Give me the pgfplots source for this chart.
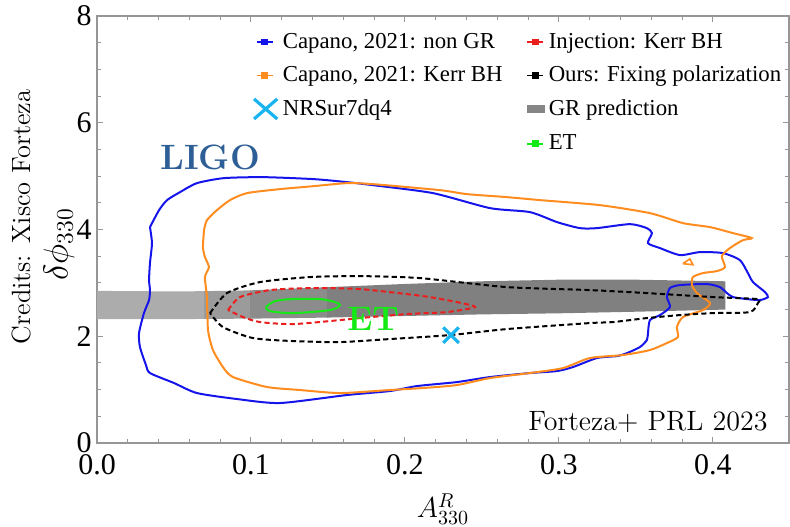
\documentclass[border=0pt]{standalone}
\usepackage{pgfplots}
\pgfplotsset{compat=1.18}
\usepackage{fontspec}
\newfontfamily\tnr{Liberation Serif}
\definecolor{cblue}{RGB}{20,20,235}
\definecolor{corange}{RGB}{255,140,30}
\definecolor{cred}{RGB}{235,30,30}
\definecolor{cgreen}{RGB}{20,235,20}
\definecolor{ccyan}{RGB}{25,180,240}
\definecolor{ligo}{RGB}{45,95,150}
\definecolor{framegray}{RGB}{150,150,150}
\definecolor{bandA}{RGB}{172,172,172}
\definecolor{bandB}{RGB}{155,155,155}
\definecolor{bandC}{RGB}{140,140,140}
\definecolor{bandD}{RGB}{128,128,128}
\begin{document}
\begin{tikzpicture}
\path[use as bounding box] (-48.5pt,-41.5pt) rectangle (346.5pt,221.5pt);
\begin{axis}[
 at={(0,0)}, anchor=south west,
 scale only axis, width=346pt, height=213.5pt,
 xmin=0, xmax=0.4494, ymin=0, ymax=8,
 xtick={0,0.1,0.2,0.3,0.4}, xticklabels={0.0,0.1,0.2,0.3,0.4},
 ytick={0,2,4,6,8}, yticklabels={0,2,4,6,8},
 minor x tick num=4, minor y tick num=3,
 tick align=inside, major tick length=3pt, minor tick length=1.8pt,
 axis line style={framegray, line width=0.6pt},
 every tick/.style={framegray, line width=0.5pt},
 ticklabel style={font=\tnr\fontsize{15}{17}\selectfont, text=black},
 xticklabel style={inner sep=0pt, anchor=north, yshift=-5.5pt},
 yticklabel style={inner sep=0pt, anchor=east, xshift=-2.5pt},
 xlabel={$A^{R}_{330}$},
 xlabel style={at={(rel axis cs:0.5,0)}, anchor=center, yshift=-33pt, font=\fontsize{14}{16}\selectfont},
 ylabel={$\delta\phi_{330}$},
 ylabel style={at={(rel axis cs:-0.055,0.465)}, anchor=center, font=\fontsize{17}{19}\selectfont},
 legend columns=2,
 legend cell align=left,
 legend image code/.code={\draw[mark repeat=2,mark phase=2,#1] plot coordinates {(0pt,0pt) (4pt,0pt) (8pt,0pt)};},
 legend style={at={(axis cs:0.0968,7.84)}, anchor=north west, draw=none, fill=none,
   font=\tnr\fontsize{11.4}{13}\selectfont, row sep=3.4pt,
   /tikz/every even column/.append style={column sep=10pt}},
]
% legend entries (row-wise)
\addlegendimage{cblue, line width=0.8pt, mark=square*, mark size=1.3pt}
\addlegendentry{Capano, 2021: non GR}
\addlegendimage{cred, line width=0.8pt, mark=square*, mark size=1.3pt}
\addlegendentry{Injection: Kerr BH}
\addlegendimage{corange, line width=0.8pt, mark=square*, mark size=1.3pt}
\addlegendentry{Capano, 2021: Kerr BH}
\addlegendimage{black, line width=0.8pt, mark=square*, mark size=1.3pt}
\addlegendentry{Ours: Fixing polarization}
\addlegendimage{legend image code/.code={\draw[ccyan, line width=1.6pt] (-1.3pt,-5pt) -- (10.3pt,5pt) (-1.3pt,5pt) -- (10.3pt,-5pt);}}
\addlegendentry{NRSur7dq4}
\addlegendimage{legend image code/.code={\fill[gray!95] (0pt,-1.8pt) rectangle (8.5pt,1.8pt);}}
\addlegendentry{GR prediction}
\addlegendimage{legend image code/.code={\path[draw=none, fill=none] (0pt,0pt) rectangle (8pt,0.1pt);}}
\addlegendentry{\strut}
\addlegendimage{cgreen, line width=0.8pt, mark=square*, mark size=1.3pt}
\addlegendentry{ET}

% GR prediction band, pieces of increasing density
\addplot[fill=bandA, draw=none, forget plot] coordinates {
(0,2.85) (0.05,2.84) (0.07,2.845) (0.07,2.325) (0.05,2.32) (0,2.32) (0,2.85)};
\addplot[fill=bandB, draw=none, forget plot] coordinates {
(0.0695,2.845) (0.1,2.86) (0.1,2.33) (0.0695,2.325) (0.0695,2.845)};
\addplot[fill=bandC, draw=none, forget plot] coordinates {
(0.0995,2.86) (0.15,2.92) (0.15,2.35) (0.0995,2.33) (0.0995,2.86)};
\addplot[fill=bandD, draw=none, forget plot] coordinates {
(0.1495,2.92) (0.2,2.98) (0.25,3.03) (0.3,3.06) (0.35,3.06) (0.408,3.03)
(0.408,2.50) (0.35,2.46) (0.3,2.43) (0.25,2.41) (0.2,2.38) (0.1495,2.35) (0.1495,2.92)};

% Capano non GR (blue)
\addplot[cblue, line width=1pt, smooth, tension=0.4, forget plot] coordinates {
(0.0344,4.045) (0.0403,4.363) (0.0455,4.551) (0.0539,4.700) (0.0649,4.869) (0.0825,4.963)
(0.1084,4.981) (0.1409,4.944) (0.1623,4.888) (0.1792,4.831) (0.2182,4.682) (0.2552,4.401)
(0.2812,4.326) (0.2987,4.139) (0.3136,4.026) (0.3247,4.026) (0.3461,4.101) (0.3571,4.026)
(0.3604,3.933) (0.3578,3.745) (0.3656,3.652) (0.3786,3.521) (0.3916,3.577) (0.4065,3.558)
(0.4175,3.427) (0.4227,3.184) (0.4260,3.015) (0.4338,2.828) (0.4357,2.734) (0.4305,2.678)
(0.4221,2.697) (0.4130,2.734) (0.4091,2.809) (0.4045,2.921) (0.3961,2.978) (0.3786,2.959)
(0.3721,2.903) (0.3701,2.734) (0.3721,2.547) (0.3656,2.397) (0.3591,2.303) (0.3578,2.060)
(0.3571,1.929) (0.3526,1.798) (0.3442,1.685) (0.3377,1.629) (0.3247,1.592) (0.3091,1.423)
(0.2987,1.348) (0.2812,1.311) (0.2552,1.236) (0.2338,1.142) (0.2078,1.067) (0.1903,0.974)
(0.1623,0.899) (0.1188,0.749) (0.0909,0.824) (0.0649,0.936) (0.0500,1.124) (0.0344,1.311)
(0.0318,1.461) (0.0279,1.798) (0.0273,2.060) (0.0305,2.434) (0.0338,2.678) (0.0344,2.865)
(0.0338,3.052) (0.0344,3.371) (0.0357,3.745) (0.0344,4.045)};

% Capano Kerr BH (orange)
\addplot[corange, line width=1pt, smooth, tension=0.4, forget plot] coordinates {
(0.0695,3.989) (0.0714,4.176) (0.0779,4.363) (0.0864,4.551) (0.0974,4.682) (0.1188,4.757)
(0.1409,4.813) (0.1623,4.869) (0.1792,4.850) (0.2227,4.738) (0.2403,4.663) (0.2662,4.607)
(0.2877,4.551) (0.3266,4.457) (0.3591,4.307) (0.3805,4.120) (0.3981,4.045) (0.4130,3.933)
(0.4253,3.839) (0.4195,3.801) (0.4110,3.652) (0.4058,3.502) (0.4078,3.296) (0.4026,3.221)
(0.3935,3.184) (0.3870,3.109) (0.3864,2.959) (0.3896,2.809) (0.3981,2.622) (0.3935,2.491)
(0.3805,2.360) (0.3766,2.172) (0.3773,1.985) (0.3701,1.873) (0.3591,1.742) (0.3416,1.648)
(0.3201,1.592) (0.3026,1.404) (0.2812,1.311) (0.2552,1.217) (0.2338,1.086) (0.2117,1.030)
(0.1903,0.993) (0.1578,0.936) (0.1318,0.993) (0.1104,1.049) (0.0883,1.236) (0.0818,1.423)
(0.0753,1.742) (0.0721,2.116) (0.0714,2.734) (0.0701,3.109) (0.0727,3.296) (0.0701,3.483)
(0.0688,3.670) (0.0695,3.989)};
\addplot[corange, line width=0.8pt, forget plot] coordinates {
(0.3805,3.36) (0.3850,3.45) (0.3870,3.34) (0.3805,3.36)};

% Ours: fixing polarization (black dashed)
\addplot[black, line width=1pt, dash pattern=on 2.6pt off 1.6pt, smooth, tension=0.4, forget plot] coordinates {
(0.0734,2.434) (0.0844,2.809) (0.1058,3.015) (0.1383,3.109) (0.1708,3.127) (0.2097,3.090)
(0.2662,2.921) (0.3201,2.865) (0.3571,2.809) (0.4000,2.734) (0.4286,2.697) (0.4292,2.622)
(0.4240,2.453) (0.4000,2.434) (0.3786,2.397) (0.3571,2.341) (0.3351,2.266) (0.3201,2.247)
(0.2662,2.135) (0.2292,2.022) (0.1903,1.948) (0.1578,1.891) (0.1273,1.910) (0.1013,1.966)
(0.0818,2.172) (0.0734,2.434)};

% Injection: Kerr BH (red dashed)
\addplot[cred, line width=1pt, dash pattern=on 2.6pt off 1.6pt, smooth, tension=0.4, forget plot] coordinates {
(0.0851,2.491) (0.0929,2.734) (0.1123,2.865) (0.1383,2.903) (0.1708,2.884) (0.2117,2.753)
(0.2338,2.640) (0.2455,2.547) (0.2273,2.453) (0.2013,2.416) (0.1708,2.341) (0.1578,2.303)
(0.1273,2.228) (0.1058,2.266) (0.0948,2.360) (0.0851,2.491)};

% ET (green)
\addplot[cgreen, line width=1pt, smooth, tension=0.5, forget plot] coordinates {
(0.1097,2.547) (0.1156,2.659) (0.1273,2.697) (0.1448,2.697) (0.1545,2.640) (0.1578,2.584)
(0.1513,2.491) (0.1273,2.434) (0.1123,2.472) (0.1097,2.547)};

% NRSur7dq4
\addplot[only marks, mark=x, mark size=5.5pt, ccyan, line width=1.6pt, forget plot] coordinates {(0.2299,2.02)};

\node[anchor=base west, text=ligo, font=\bfseries\fontsize{17.6}{20}\selectfont, inner sep=0pt] at (axis cs:0.0409,5.13) {LIGO};
\node[anchor=base west, text=cgreen, font=\bfseries\fontsize{17}{20}\selectfont, inner sep=0pt] at (axis cs:0.1623,2.116) {ET};
\node[anchor=base east, font=\fontsize{14}{16}\selectfont, inner sep=0pt] at (axis cs:0.4357,0.243) {Forteza+ PRL 2023};
\end{axis}
\node[rotate=90, anchor=center, font=\fontsize{13.2}{15}\selectfont, inner sep=0pt] at (-38pt,113pt) {Credits: Xisco Forteza};
\end{tikzpicture}
\end{document}
